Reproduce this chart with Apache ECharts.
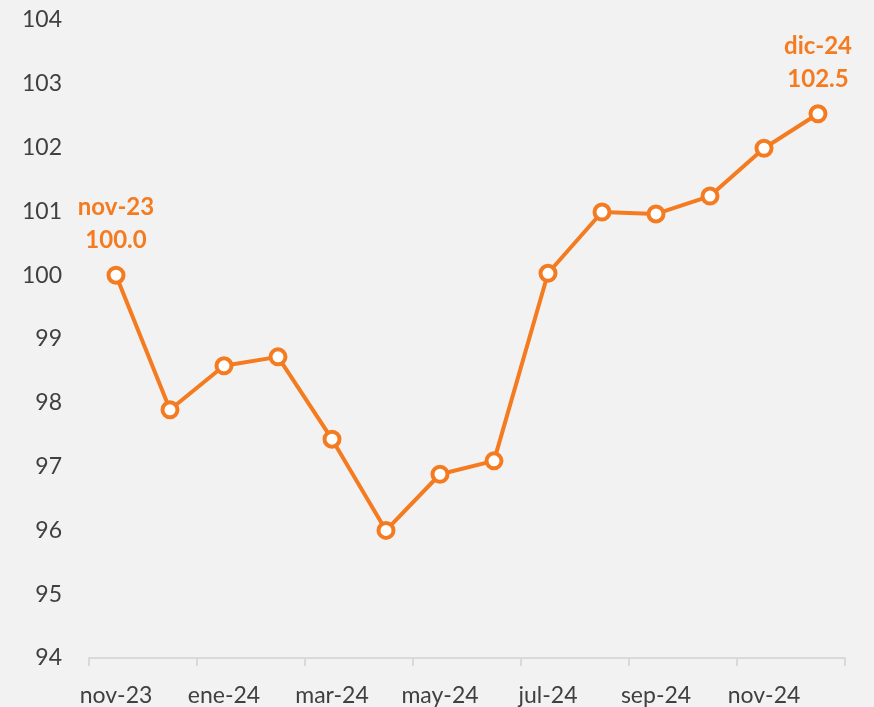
<!DOCTYPE html>
<html>
<head>
<meta charset="utf-8">
<script src="https://cdn.jsdelivr.net/npm/echarts@6/dist/echarts.min.js"></script>
<style>
  html, body { margin: 0; padding: 0; background: #f2f2f2; }
  #main { width: 874px; height: 707px; }
</style>
</head>
<body>
<div id="main"></div>
<script>
// meses (eje x)
const months = ['nov-23', 'dic-23', 'ene-24', 'feb-24', 'mar-24', 'abr-24', 'may-24',
  'jun-24', 'jul-24', 'ago-24', 'sep-24', 'oct-24', 'nov-24', 'dic-24']
// índice, base nov-23 = 100
const values = [100.0, 97.89, 98.58, 98.72, 97.43, 96.0, 96.88,
  97.09, 100.03, 100.99, 100.96, 101.24, 101.99, 102.53]

const orange = '#f47b20'
const chart = echarts.init(document.getElementById('main'))

chart.setOption({
  backgroundColor: '#f2f2f2',
  textStyle: { fontFamily: 'Lato' },
  grid: { left: 89, right: 29, top: 20, bottom: 49 },
  xAxis: {
    type: 'category',
    data: months,
    boundaryGap: true,
    axisLine: { lineStyle: { color: '#d9d9d9', width: 2 } },
    axisTick: { show: true, interval: 1, length: 8, lineStyle: { color: '#d9d9d9', width: 2 } },
    axisLabel: { interval: 1, color: '#404040', fontSize: 23, margin: 26 }
  },
  yAxis: {
    type: 'value',
    min: 94,
    max: 104,
    interval: 1,
    splitLine: { show: false },
    axisLine: { show: false },
    axisTick: { show: false },
    axisLabel: { color: '#404040', fontSize: 23, margin: 27 }
  },
  series: [{
    type: 'line',
    data: values,
    symbol: 'circle',
    symbolSize: 15,
    lineStyle: { color: orange, width: 4 },
    itemStyle: { color: '#ffffff', borderColor: orange, borderWidth: 4 },
    label: {
      show: true,
      position: 'top',
      distance: 9,
      color: orange,
      fontSize: 24,
      fontWeight: 'bold',
      lineHeight: 33,
      formatter: (p) => {
        if (p.dataIndex === 0 || p.dataIndex === values.length - 1) {
          return months[p.dataIndex] + '\n' + p.value.toFixed(1)
        }
        return ''
      }
    },
    animation: false
  }]
})
</script>
</body>
</html>
